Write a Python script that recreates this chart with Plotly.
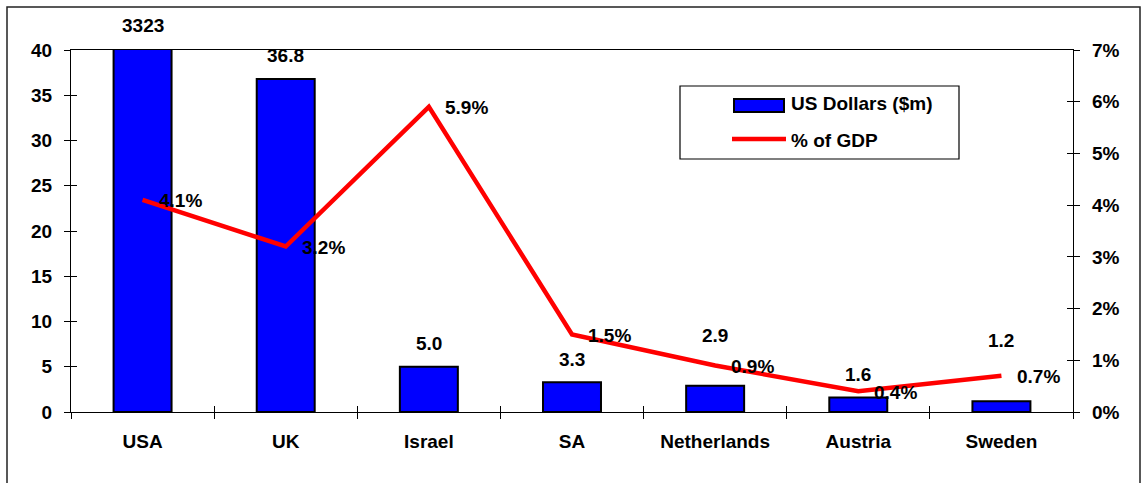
import plotly.graph_objects as go

# Data
categories = ["USA", "UK", "Israel", "SA", "Netherlands", "Austria", "Sweden"]
usd_m = [3323, 36.8, 5.0, 3.3, 2.9, 1.6, 1.2]
gdp_pct = [4.1, 3.2, 5.9, 1.5, 0.9, 0.4, 0.7]
left_max = 40
right_max = 7

# extra lift (px) for value labels that would otherwise collide with the line
label_lift = {"USA": 25, "Netherlands": 50, "Sweden": 61}
DEFAULT_LIFT = 23

W, H = 1144, 483
ML, MR, MT, MB = 71, 71, 50, 71
PW, PH = W - ML - MR, H - MT - MB

FONT = "Liberation Sans, Arial, sans-serif"
FS = 19
BLUE = "#0000FF"
RED = "#FF0000"


def px(x):
    return (x - ML) / PW


def py(y):
    return (H - MB - y) / PH


fig = go.Figure()

fig.add_trace(go.Bar(
    x=categories, y=usd_m, name="US Dollars ($m)",
    marker=dict(color=BLUE, line=dict(color="black", width=2)),
    hoverinfo="x+y", showlegend=False,
))
fig.add_trace(go.Scatter(
    x=categories, y=gdp_pct, name="% of GDP", yaxis="y2",
    mode="lines", line=dict(color=RED, width=4.5),
    showlegend=False,
))
# helper traces so the crossing-tick overlay axes are drawn
fig.add_trace(go.Scatter(x=categories, y=[None] * len(categories), xaxis="x2", yaxis="y3",
                         mode="none", hoverinfo="skip", showlegend=False))
fig.add_trace(go.Scatter(x=categories, y=[None] * len(categories), xaxis="x2", yaxis="y4",
                         mode="none", hoverinfo="skip", showlegend=False))

tickfont = dict(family=FONT, size=FS, color="black")

annotations = []
for c, v in zip(categories, usd_m):
    annotations.append(dict(
        x=c, y=min(v, left_max), xref="x", yref="y",
        text=f"<b>{v:.0f}</b>" if v >= 100 else f"<b>{v:.1f}</b>",
        showarrow=False, yanchor="middle", yshift=label_lift.get(c, DEFAULT_LIFT),
        font=tickfont,
    ))
for c, p in zip(categories, gdp_pct):
    annotations.append(dict(
        x=c, y=p, xref="x", yref="y2",
        text=f"<b>{p:.1f}%</b>",
        showarrow=False, xanchor="left", yanchor="middle", xshift=14, yshift=-1,
        font=tickfont,
    ))

# legend box
annotations.append(dict(x=px(789), y=py(104), xref="paper", yref="paper",
                        text="<b>US Dollars ($m)</b>", showarrow=False,
                        xanchor="left", yanchor="middle", font=tickfont))
annotations.append(dict(x=px(789), y=py(140), xref="paper", yref="paper",
                        text="<b>% of GDP</b>", showarrow=False,
                        xanchor="left", yanchor="middle", font=tickfont))

shapes = [
    # outer frame
    dict(type="rect", xref="paper", yref="paper",
         x0=px(7), x1=px(1140), y0=py(500), y1=py(7),
         line=dict(color="#222", width=1.5), fillcolor="rgba(0,0,0,0)", layer="below"),
    # legend frame and keys
    dict(type="rect", xref="paper", yref="paper",
         x0=px(680), x1=px(959), y0=py(159), y1=py(86),
         line=dict(color="black", width=1.2), fillcolor="white"),
    dict(type="rect", xref="paper", yref="paper",
         x0=px(734), x1=px(784), y0=py(112), y1=py(99),
         line=dict(color="black", width=2), fillcolor=BLUE),
    dict(type="line", xref="paper", yref="paper",
         x0=px(732), x1=px(786), y0=py(139), y1=py(139),
         line=dict(color=RED, width=4.5)),
]

fig.update_layout(
    width=W, height=H,
    margin=dict(l=ML, r=MR, t=MT, b=MB, pad=0),
    paper_bgcolor="white", plot_bgcolor="white",
    bargap=0.595,
    font=dict(family=FONT, size=FS, color="black"),
    xaxis=dict(
        type="category", categoryorder="array", categoryarray=categories,
        range=[-0.5, len(categories) - 0.5],
        showline=True, linecolor="black", linewidth=1.2, mirror=True,
        ticks="outside", ticklen=6, tickcolor="black", tickwidth=1,
        tickson="boundaries", showgrid=False, tickfont=tickfont,
        tickvals=categories, ticktext=[f"<b>{c}</b>" for c in categories],
        ticklabelstandoff=12,
    ),
    xaxis2=dict(
        type="category", categoryorder="array", categoryarray=categories,
        overlaying="x", anchor="y", matches="x",
        range=[-0.5, len(categories) - 0.5],
        showline=False, ticks="inside", ticklen=6, tickcolor="black", tickwidth=1,
        tickson="boundaries", showgrid=False, showticklabels=False,
    ),
    yaxis=dict(
        range=[0, left_max], dtick=5, tick0=0,
        showline=True, linecolor="black", linewidth=1.2,
        ticks="outside", ticklen=6, tickcolor="black",
        showgrid=False, zeroline=False, tickfont=tickfont,
        tickvals=list(range(0, left_max + 1, 5)),
        ticktext=[f"<b>{t}</b>" for t in range(0, left_max + 1, 5)],
        ticklabelstandoff=8,
    ),
    yaxis2=dict(
        range=[0, right_max], overlaying="y", side="right", anchor="x",
        showline=True, linecolor="black", linewidth=1.2,
        ticks="outside", ticklen=6, tickcolor="black",
        showgrid=False, zeroline=False, tickfont=tickfont,
        tickvals=list(range(0, right_max + 1)),
        ticktext=[f"<b>{t}%</b>" for t in range(0, right_max + 1)],
        ticklabelstandoff=8,
    ),
    yaxis3=dict(
        range=[0, left_max], overlaying="y", side="left", anchor="x2",
        ticks="inside", ticklen=6, tickcolor="black", dtick=5, tick0=0,
        showline=False, showgrid=False, zeroline=False, showticklabels=False,
    ),
    yaxis4=dict(
        range=[0, right_max], overlaying="y", side="right", anchor="x2",
        ticks="inside", ticklen=6, tickcolor="black", dtick=1, tick0=0,
        showline=False, showgrid=False, zeroline=False, showticklabels=False,
    ),
    annotations=annotations,
    shapes=shapes,
    hovermode="closest",
)

fig.write_html("out.html")
